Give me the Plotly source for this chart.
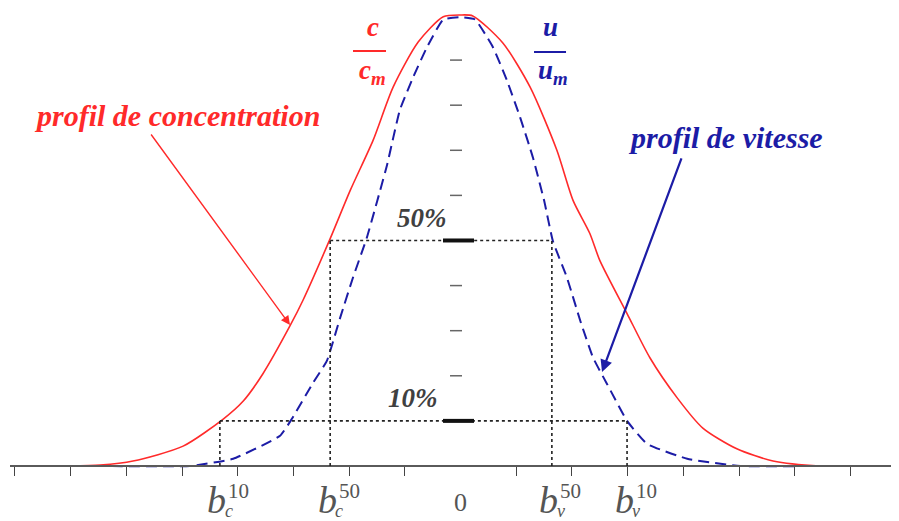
import plotly.graph_objects as go

# ---- data (x in tick units, y = fraction of max) ----
conc_x = [-8.09, -7.01, -6.47, -5.88, -4.98, -4.26, -3.90, -3.55, -3.06, -2.83, -2.34, -1.98,
          -1.57, -1.21, -0.76, -0.31, 0.0, 0.22, 0.76, 1.25, 1.73, 2.02, 2.32, 2.50, 2.99,
          3.40, 3.89, 4.35, 4.96, 5.61, 6.45, 7.53, 7.87]
conc_y = [0.0, 0.0, 0.002, 0.011, 0.044, 0.104, 0.144, 0.204, 0.311, 0.367, 0.504, 0.611,
          0.722, 0.840, 0.940, 0.996, 1.0, 0.998, 0.938, 0.840, 0.700, 0.589, 0.516, 0.456, 0.338,
          0.240, 0.151, 0.084, 0.038, 0.011, 0.0, 0.0, 0.0]

vit_x = [-8.09, -6.47, -4.86, -4.08, -3.24, -3.03, -2.65, -2.40, -2.16, -1.93, -1.68, -1.32,
         -1.09, -0.85, -0.60, -0.31, 0.0, 0.26, 0.58, 0.83, 1.07, 1.30, 1.50, 1.66, 1.91,
         2.15, 2.38, 2.63, 2.99, 3.35, 4.07, 5.02, 6.45, 7.87]
vit_y = [0.0, 0.0, 0.0, 0.016, 0.067, 0.104, 0.184, 0.233, 0.329, 0.418, 0.507, 0.667,
         0.789, 0.862, 0.929, 0.990, 0.995, 0.990, 0.929, 0.856, 0.773, 0.684, 0.589, 0.498, 0.418,
         0.322, 0.240, 0.182, 0.100, 0.049, 0.016, 0.0, 0.0, 0.0]

x_ticks = [-8, -7, -6, -5, -4, -3, -2, -1, 1, 2, 3, 4, 5, 6, 7]
y_dashes = [0.2, 0.3, 0.4, 0.6, 0.7, 0.8, 0.9]
pct_levels = [0.5, 0.1]
pct_labels = ["50%", "10%"]

b_pos = [-4.32, -2.34, 1.64, 2.99]          # b_c^10, b_c^50, b_v^50, b_v^10
b_level = [0.1, 0.5, 0.5, 0.1]
b_sup = ["10", "50", "50", "10"]
b_sub = ["c", "c", "v", "v"]

RED = "#ff2a2a"
BLUE = "#1c1ca6"
GRAY = "#555555"

# pixel helpers for layout placement (layout only, screen pixels)
def X(px):
    return (px - 460.5) / 55.7

def Y(py):
    return (466 - py) / 451.0

fig = go.Figure()
fig.add_trace(go.Scatter(x=conc_x, y=conc_y, mode="lines",
                         line=dict(color=RED, width=1.6, shape="spline", smoothing=0.7),
                         hoverinfo="skip"))
fig.add_trace(go.Scatter(x=vit_x, y=vit_y, mode="lines",
                         line=dict(color=BLUE, width=2, dash="11px,6px", shape="spline", smoothing=0.4),
                         hoverinfo="skip"))

shapes = []
dot = dict(color="#222222", width=1.6, dash="dot")
shapes.append(dict(type="line", x0=b_pos[1], x1=b_pos[2], y0=0.5, y1=0.5, line=dot))
shapes.append(dict(type="line", x0=b_pos[0], x1=b_pos[3], y0=0.1, y1=0.1, line=dot))
for xp, lv in zip(b_pos, b_level):
    shapes.append(dict(type="line", x0=xp, x1=xp, y0=0, y1=lv, line=dot))
for lv in y_dashes:
    shapes.append(dict(type="line", x0=X(450), x1=X(462), y0=lv, y1=lv,
                       line=dict(color="#666666", width=1.5)))
for lv in pct_levels:
    shapes.append(dict(type="line", x0=X(443), x1=X(474), y0=lv, y1=lv,
                       line=dict(color="#111111", width=4)))
shapes.append(dict(type="line", x0=X(353), x1=X(386), y0=Y(51), y1=Y(51),
                   line=dict(color=RED, width=2.2)))
shapes.append(dict(type="line", x0=X(534), x1=X(566), y0=Y(52), y1=Y(52),
                   line=dict(color=BLUE, width=2.2)))

bi = dict(family="Liberation Serif", weight="bold", style="italic")
ann = []
ann.append(dict(x=X(177), y=Y(116), text="profil de concentration", showarrow=False,
                font=dict(size=30, color=RED, **bi)))
ann.append(dict(x=X(725), y=Y(138), text="profil de vitesse", showarrow=False,
                font=dict(size=30, color=BLUE, **bi)))
ann.append(dict(x=X(373), y=Y(27), text="c", showarrow=False,
                font=dict(size=27, color=RED, **bi)))
ann.append(dict(x=X(372), y=Y(72), text="c<sub>m</sub>", showarrow=False,
                font=dict(size=27, color=RED, **bi)))
ann.append(dict(x=X(550), y=Y(27), text="u", showarrow=False,
                font=dict(size=27, color=BLUE, **bi)))
ann.append(dict(x=X(553), y=Y(72), text="u<sub>m</sub>", showarrow=False,
                font=dict(size=27, color=BLUE, **bi)))
for lv, lab, cx in zip(pct_levels, pct_labels, [422, 413]):
    ann.append(dict(x=X(cx), y=lv + 0.05, text=lab, showarrow=False,
                    font=dict(size=27, color="#404040", **bi)))
ann.append(dict(x=X(290), y=Y(325), ax=X(150), ay=Y(133), axref="x", ayref="y",
                text="", showarrow=True, arrowhead=2, arrowsize=1.3, arrowwidth=1.4,
                arrowcolor=RED))
ann.append(dict(x=X(602), y=Y(372), ax=X(682), ay=Y(157), axref="x", ayref="y",
                text="", showarrow=True, arrowhead=2, arrowsize=1.1, arrowwidth=2.2,
                arrowcolor=BLUE))
it = dict(family="Liberation Serif", style="italic")
for xp, sp, sb in zip(b_pos, b_sup, b_sub):
    ann.append(dict(x=xp, y=Y(500), xshift=-3, text="b", showarrow=False,
                    font=dict(size=38, color=GRAY, **it)))
    ann.append(dict(x=xp, y=Y(491), xshift=19, text=sp, showarrow=False,
                    font=dict(size=21, color=GRAY, family="Liberation Serif")))
    ann.append(dict(x=xp, y=Y(511), xshift=9, text=sb, showarrow=False,
                    font=dict(size=18, color=GRAY, **it)))
ann.append(dict(x=0, y=Y(503), text="0", showarrow=False,
                font=dict(size=26, color=GRAY, family="Liberation Serif")))

# page body has an 8px margin: figure is 891x513 so it fills the 899x521 window
fig.update_layout(
    width=891, height=513,
    margin=dict(l=2, r=0, t=0, b=0),
    paper_bgcolor="white", plot_bgcolor="white",
    showlegend=False,
    shapes=shapes, annotations=ann,
    xaxis=dict(range=[-8.088, 7.872], showgrid=False, zeroline=False,
               showline=True, linecolor="#5a5a5a", linewidth=1.6,
               ticks="outside", ticklen=9, tickwidth=1.2, tickcolor="#444444",
               tickvals=x_ticks, showticklabels=False,
               anchor="free", position=55 / 513),
    yaxis=dict(range=[-0.122, 1.0155], visible=False),
)

fig.write_html("out.html")
